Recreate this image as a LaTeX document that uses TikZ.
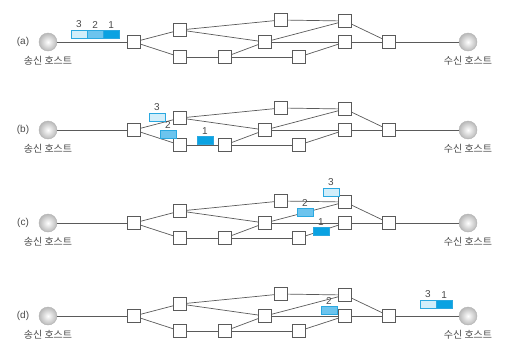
\documentclass[tikz,border=0pt]{standalone}
\usepackage{fontspec}
\setmainfont{Liberation Sans}
\newfontfamily\krfont{Noto Sans CJK KR}
\usetikzlibrary{positioning}
\definecolor{linegray}{HTML}{5A5A5A}
\definecolor{txtgray}{HTML}{4A4A4A}
\definecolor{pktedge}{HTML}{2AA8E0}
\definecolor{pktlight}{HTML}{D2EEFA}
\definecolor{pktmid}{HTML}{6CC4EE}
\definecolor{pktdark}{HTML}{0AA2E2}
\tikzset{
  router/.style={draw=linegray, fill=white, minimum size=12.5pt, inner sep=0pt, line width=0.7pt},
  host/.style={circle, draw=gray!60, thin, inner color=white, outer color=gray!55, minimum size=18pt, inner sep=0pt},
  link/.style={draw=linegray, line width=0.7pt},
  pkt/.style={draw=pktedge, line width=0.5pt, minimum width=15.6pt, minimum height=8pt, inner sep=0pt},
  num/.style={font=\fontsize{10}{10}\selectfont, text=txtgray, inner sep=0.5pt},
  hostname/.style={font=\krfont\fontsize{10}{11}\selectfont, text=txtgray},
  tag/.style={font=\fontsize{10}{11}\selectfont, text=txtgray},
}
\begin{document}
\begin{tikzpicture}[x=1pt,y=-1pt]
\useasboundingbox (0,0) rectangle (518,353);
% the same network, once per step
\foreach \p/\y in {a/42,b/130,c/223,d/316}{
  \node[tag] (t\p) at (23,\y) {(\p)};
  \node[host] (s\p) at (48,\y) {};
  \node[host] (d\p) at (468,\y) {};
  \node[hostname] at (48,\y+19) {송신 호스트};
  \node[hostname] at (468,\y+19) {수신 호스트};
  \node[router] (r1\p) at (134,\y) {};
  \node[router] (r2\p) at (180,\y-12) {};
  \node[router] (r3\p) at (180,\y+15) {};
  \node[router] (r4\p) at (225,\y+15) {};
  \node[router] (r5\p) at (265,\y) {};
  \node[router] (r6\p) at (281,\y-22) {};
  \node[router] (r7\p) at (299,\y+15) {};
  \node[router] (r8\p) at (345,\y-21) {};
  \node[router] (r9\p) at (345,\y) {};
  \node[router] (r10\p) at (389,\y) {};
  \draw[link] (s\p) -- (r1\p);
  \draw[link] (r1\p) -- (r2\p);
  \draw[link] (r1\p) -- (r3\p);
  \draw[link] (r2\p) -- (r6\p);
  \draw[link] (r2\p) -- (r5\p);
  \draw[link] (r3\p) -- (r4\p);
  \draw[link] (r4\p) -- (r5\p);
  \draw[link] (r4\p) -- (r7\p);
  \draw[link] (r5\p) -- (r8\p);
  \draw[link] (r5\p) -- (r9\p);
  \draw[link] (r6\p) -- (r8\p);
  \draw[link] (r7\p) -- (r9\p);
  \draw[link] (r8\p) -- (r10\p);
  \draw[link] (r9\p) -- (r10\p);
  \draw[link] (r10\p) -- (d\p);
}
% (a) all three packets leave together
\node[pkt, fill=pktlight, label={[num, label distance=1pt]above:3}] (p3a) at (79,34) {};
\node[pkt, fill=pktmid, label={[num, label distance=1pt]above:2}, right=0pt of p3a] (p2a) {};
\node[pkt, fill=pktdark, label={[num, label distance=1pt]above:1}, right=0pt of p2a] (p1a) {};
% (b)
\node[pkt, fill=pktlight, label={[num, label distance=1pt]above:3}] (p3b) at (157,117) {};
\node[pkt, fill=pktmid, label={[num, label distance=1pt]above:2}] (p2b) at (168,134) {};
\node[pkt, fill=pktdark, label={[num, label distance=1pt]above:1}] (p1b) at (205,140) {};
% (c)
\node[pkt, fill=pktlight, label={[num, label distance=1pt]above:3}] (p3c) at (331,192) {};
\node[pkt, fill=pktmid, label={[num, label distance=1pt]above:2}] (p2c) at (305,212) {};
\node[pkt, fill=pktdark, label={[num, label distance=1pt]above:1}] (p1c) at (321,231) {};
% (d)
\node[pkt, fill=pktmid, label={[num, label distance=1pt]above:2}] (p2d) at (329,310) {};
\node[pkt, fill=pktlight, label={[num, label distance=1pt]above:3}] (p3d) at (428,304) {};
\node[pkt, fill=pktdark, label={[num, label distance=1pt]above:1}, right=0pt of p3d] (p1d) {};
\end{tikzpicture}
\end{document}
